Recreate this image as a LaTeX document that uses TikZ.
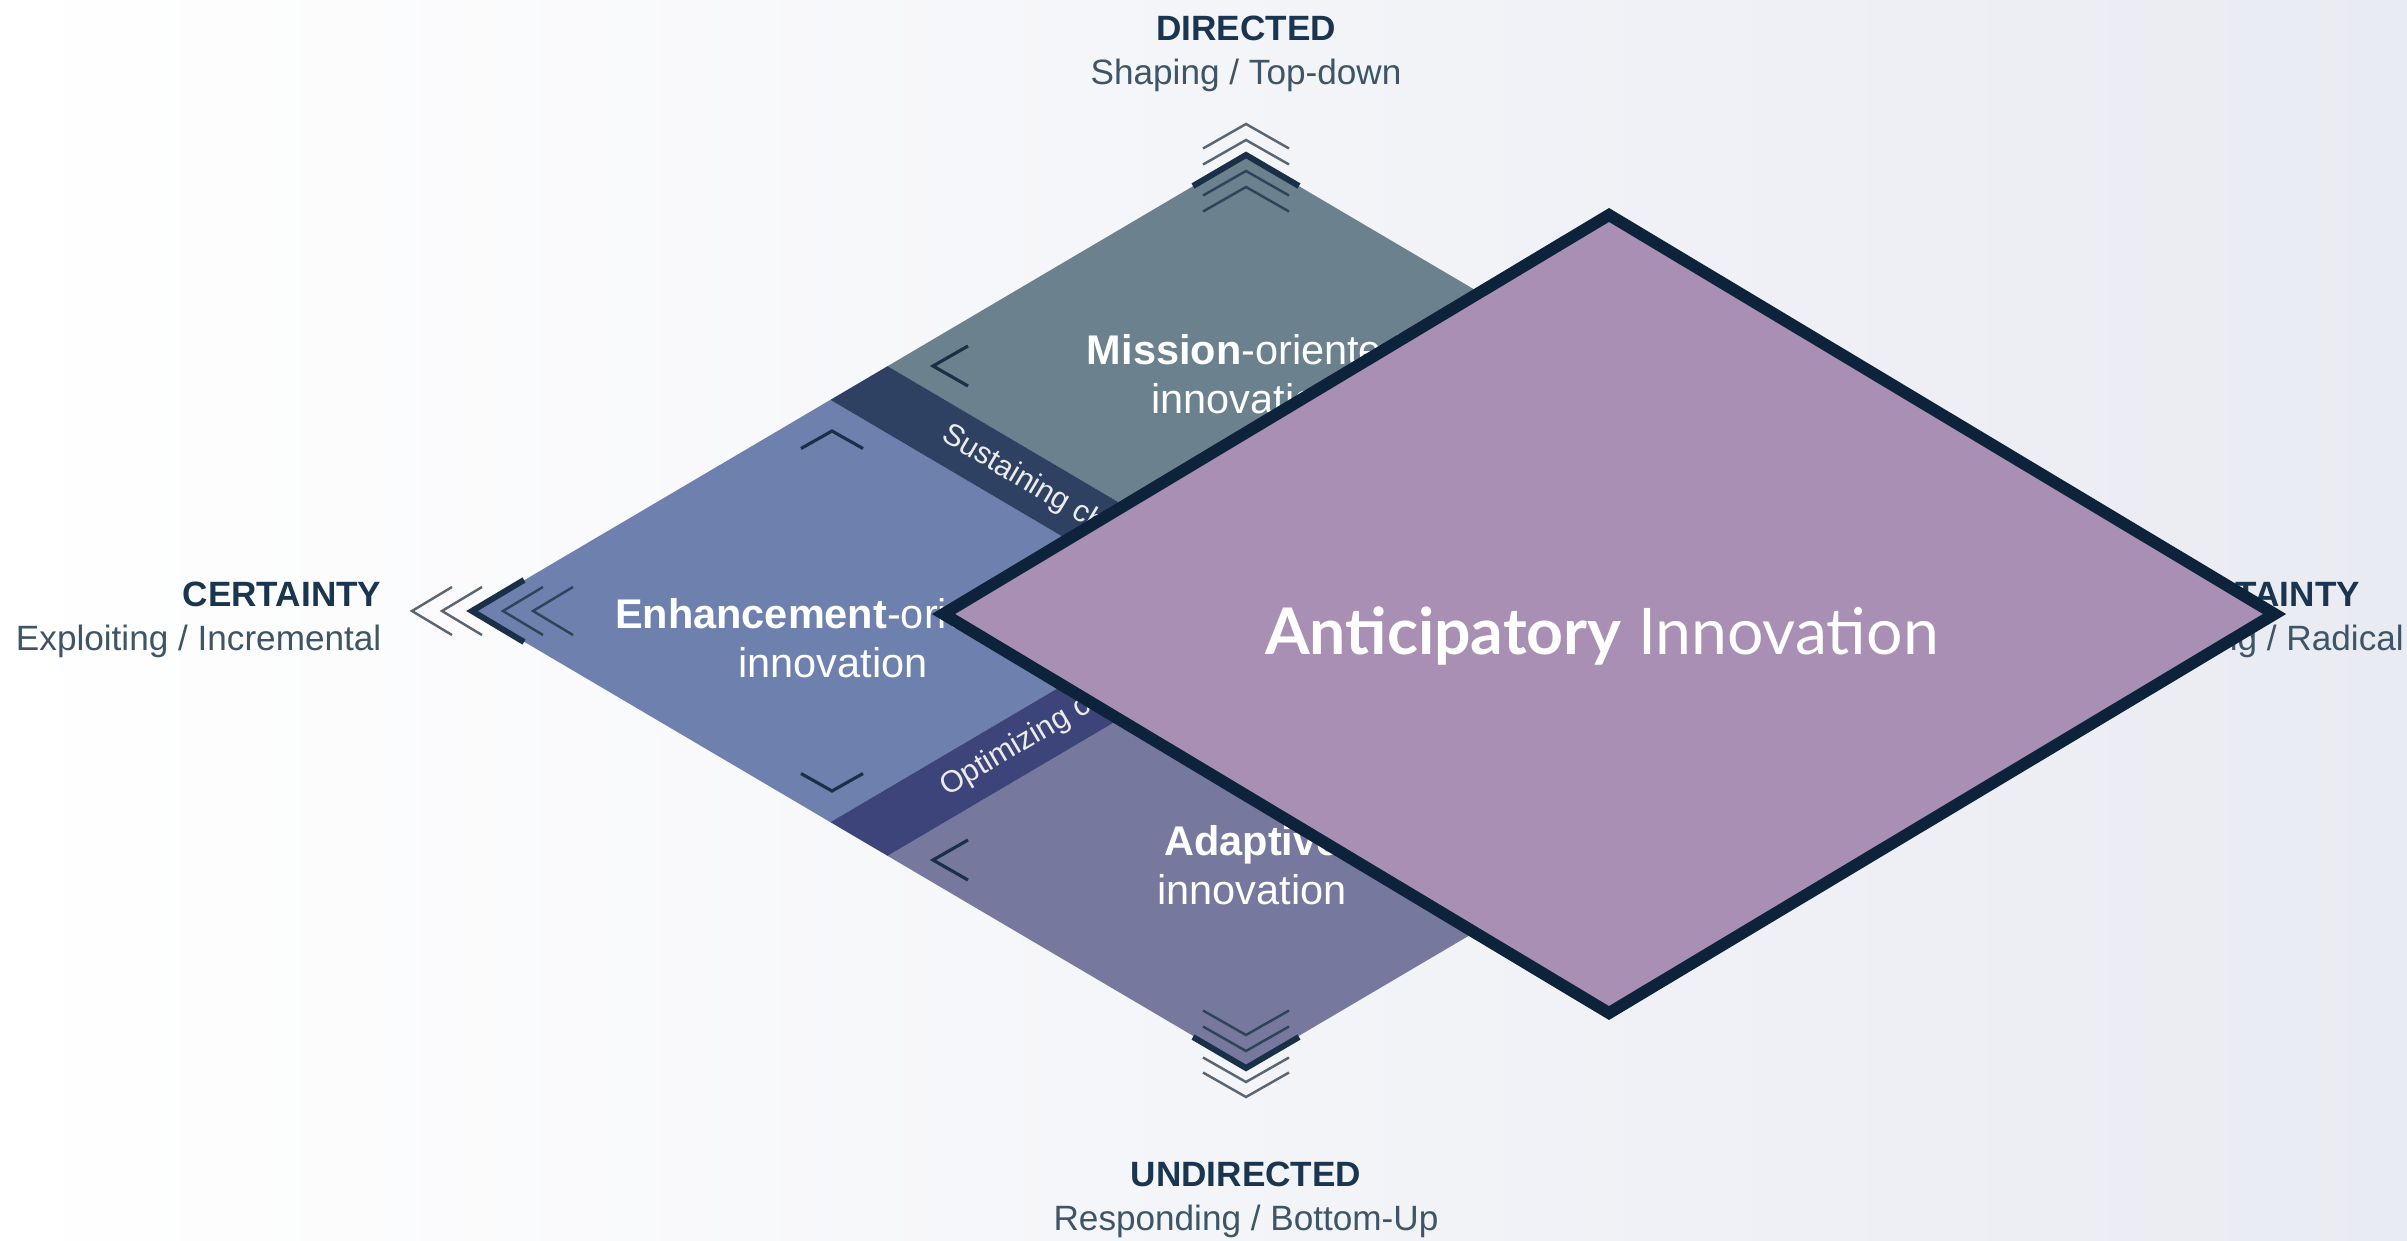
\documentclass[tikz,border=0pt]{standalone}
\usepackage{fontspec}
\setmainfont{Liberation Sans}
\newfontfamily\latofont{Lato}
\usetikzlibrary{positioning,shapes.geometric}

\definecolor{bgend}{HTML}{E9EBF2}
\definecolor{missionc}{HTML}{6B818D}
\definecolor{enhancec}{HTML}{6E80AE}
\definecolor{adaptc}{HTML}{77789D}
\definecolor{sustainc}{HTML}{2F4163}
\definecolor{optimc}{HTML}{3C4479}
\definecolor{chevdark}{HTML}{1A2F48}
\definecolor{chevout}{HTML}{5A6672}
\definecolor{chevin}{HTML}{2E4459}
\definecolor{textdark}{HTML}{1A3550}
\definecolor{textsub}{HTML}{3D5567}
\definecolor{anticfill}{HTML}{A88FB3}
\definecolor{anticline}{HTML}{0D233C}

\begin{document}
\begin{tikzpicture}[
    chevthick/.style = {draw=chevdark, line width=1.7pt},
    chevouter/.style = {draw=chevout, line width=0.7pt},
    chevinner/.style = {draw=chevin, line width=0.7pt},
    corner/.style = {draw=chevdark, line width=0.9pt},
    head/.style = {font=\bfseries\fontsize{10}{12}\selectfont, text=textdark, inner sep=0pt},
    sublbl/.style = {font=\fontsize{10}{12}\selectfont, text=textsub, inner sep=0pt},
    inlbl/.style = {font=\fontsize{11.8}{14}\selectfont, text=white, align=center},
    bandlbl/.style = {font=\fontsize{8.7}{10}\selectfont, text=white!92!black},
    antic/.style = {diamond, draw=anticline, fill=anticfill, line width=3.4pt, minimum width=13.36cm, minimum height=8.03cm, inner sep=0pt},
    antlbl/.style = {font=\latofont\fontsize{18.3}{22}\selectfont, text=white}]

    \shade[left color=white, right color=bgend] (0,0) rectangle (24.07,12.40);

    \begin{scope}[shift={(4.72,6.29)}, x={(7.74cm,4.56cm)}, y={(7.74cm,-4.56cm)}]
        \fill[missionc] (0.537,0) -- (1,0) -- (1,0.463) -- (0.537,0.463) -- cycle;
        \fill[enhancec] (0,0) -- (0.463,0) -- (0.463,0.463) -- (0,0.463) -- cycle;
        \fill[adaptc] (0,0.537) -- (0.463,0.537) -- (0.463,1) -- (0,1) -- cycle;
        \fill[sustainc] (0.463,0) -- (0.537,0) -- (0.537,0.5) -- (0.463,0.5) -- cycle;
        \fill[optimc] (0,0.463) -- (0.5,0.463) -- (0.5,0.537) -- (0,0.537) -- cycle;
        \node[bandlbl, rotate=-30.5] (sust) at (0.5,0.25) {Sustaining change};
        \node[bandlbl, rotate=30.5] (optim) at (0.25,0.5) {Optimizing change};
    \end{scope}

    \draw[chevthick] (11.93,10.54) -- (12.46,10.85) -- (12.99,10.54);
    \foreach \d in {0.15,0.31}
        \draw[chevouter, yshift=\d cm] (12.03,10.605) -- (12.46,10.85) -- (12.89,10.605);
    \foreach \d in {-0.16,-0.32}
        \draw[chevinner, yshift=\d cm] (12.03,10.605) -- (12.46,10.85) -- (12.89,10.605);

    \draw[chevthick] (11.93,2.03) -- (12.46,1.72) -- (12.99,2.03);
    \foreach \d in {0.17,0.33}
        \draw[chevinner, yshift=\d cm] (12.03,1.965) -- (12.46,1.72) -- (12.89,1.965);
    \foreach \d in {-0.14,-0.29}
        \draw[chevouter, yshift=\d cm] (12.03,1.965) -- (12.46,1.72) -- (12.89,1.965);

    \draw[chevthick] (5.24,6.60) -- (4.72,6.29) -- (5.24,5.98);
    \foreach \d in {-0.60,-0.30}
        \draw[chevouter, xshift=\d cm] (5.12,6.53) -- (4.72,6.29) -- (5.12,6.05);
    \foreach \d in {0.31,0.61}
        \draw[chevinner, xshift=\d cm] (5.12,6.53) -- (4.72,6.29) -- (5.12,6.05);

    \draw[corner] (9.68,8.94) -- (9.33,8.74) -- (9.68,8.54);
    \draw[corner] (8.01,7.915) -- (8.32,8.09) -- (8.63,7.915);
    \draw[corner] (8.01,4.665) -- (8.32,4.49) -- (8.63,4.665);
    \draw[corner] (9.68,4.00) -- (9.33,3.80) -- (9.68,3.60);

    \node[inlbl] (mission) at (12.46,8.66) {\textbf{Mission}-oriented\\innovation};
    \node[inlbl] (enhance) at (8.33,6.02) {\textbf{Enhancement}-oriented\\innovation};
    \node[inlbl] (adapt) at (12.52,3.75) {\textbf{Adaptive}\\innovation};

    \node[head] (dir) at (12.46,12.12) {DIRECTED};
    \node[sublbl, below=5pt of dir] (dirsub) {Shaping / Top-down};
    \node[head] (undir) at (12.46,0.66) {UNDIRECTED};
    \node[sublbl, below=5pt of undir] (undirsub) {Responding / Bottom-Up};
    \node[head, anchor=east] (cert) at (3.82,6.46) {CERTAINTY};
    \node[sublbl, below=5pt of cert.south east, anchor=north east] (certsub) {Exploiting / Incremental};
    \node[head, anchor=west] (uncert) at (21.10,6.46) {UNCERTAINTY};
    \node[sublbl, below=5pt of uncert.south west, anchor=north west] (uncertsub) {Exploring / Radical};

    \node[antic] (antic) at (16.09,6.26) {};
    \node[antlbl] (antictext) at ([xshift=-0.07cm, yshift=-0.22cm]antic.center) {\textbf{Anticipatory} Innovation};
\end{tikzpicture}
\end{document}
